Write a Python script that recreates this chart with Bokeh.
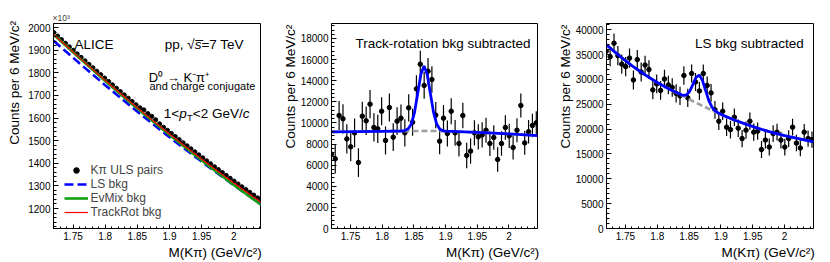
import math
from bokeh.plotting import figure
from bokeh.layouts import row
from bokeh.models import Range1d, FixedTicker, CustomJSTickFormatter, Label, Legend, LegendItem, Title
from bokeh.embed import file_html
from bokeh.resources import INLINE

FONT = "Liberation Sans"
NBSP = "\u00a0"

# ---------------- binning (6 MeV bins) ----------------
N_BINS = 54
BIN_FIRST = 1.7198
BIN_WIDTH = 0.0061
MASS = [round(BIN_FIRST + BIN_WIDTH * i, 5) for i in range(N_BINS)]

# ---------------- panel 1: invariant mass (x10^3 counts) ----------------
ULS_PAIRS = [1978.0, 1962.0, 1946.1, 1930.3, 1914.6, 1898.9, 1883.3, 1867.8, 1852.4, 1837.0,
             1821.7, 1806.5, 1791.4, 1776.3, 1761.3, 1746.4, 1731.5, 1716.8, 1702.0, 1687.4,
             1672.9, 1658.4, 1645.0, 1635.7, 1619.4, 1607.3, 1592.2, 1574.1, 1559.2, 1545.3,
             1531.5, 1517.8, 1504.1, 1490.5, 1477.0, 1463.6, 1450.2, 1436.9, 1423.7, 1410.6,
             1397.5, 1384.5, 1371.6, 1358.8, 1346.0, 1333.3, 1320.7, 1308.2, 1295.7, 1283.3,
             1271.0, 1258.8, 1246.6, 1234.5]
BKG_MASS = [1.7198, 1.76, 1.80, 1.84, 1.88, 1.92, 1.96, 2.00, 2.0431]
LS_BKG = [1941.0, 1841.9, 1745.2, 1651.0, 1559.9, 1471.5, 1386.0, 1303.3, 1217.0]
EVMIX_BKG = [1969.0, 1864.7, 1763.6, 1665.6, 1570.9, 1479.4, 1390.1, 1304.0, 1214.5]
TRACKROT_BKG = [1969.0, 1865.7, 1765.6, 1668.6, 1574.9, 1484.4, 1397.1, 1313.0, 1225.5]

# ---------------- panel 2: track-rotation bkg subtracted ----------------
TR_SUB = [7040, 6600, 10700, 10390, 8490, 7740, 9060, 6250, 10640, 10200,
          11780, 9570, 9440, 11110, 8340, 11460, 8650, 10170, 10450, 9060,
          11430, 10070, 13230, 15570, 13550, 14900, 14110, 10740, 8270, 10450,
          9000, 11110, 9060, 8050, 10700, 6920, 7330, 9060, 8680, 8870,
          9310, 8050, 8620, 6540, 8050, 9570, 8780, 7670, 9310, 11650,
          8110, 9160, 9760, 10010]
TR_ERR = [1400, 1394, 1389, 1383, 1378, 1372, 1367, 1361, 1356, 1350,
          1345, 1339, 1334, 1328, 1323, 1317, 1312, 1306, 1301, 1295,
          1290, 1284, 1279, 1273, 1268, 1262, 1257, 1251, 1246, 1240,
          1235, 1229, 1224, 1218, 1213, 1207, 1202, 1196, 1191, 1185,
          1180, 1174, 1169, 1163, 1158, 1152, 1147, 1141, 1136, 1130,
          1125, 1119, 1114, 1108]
TR_FIT_X = [1.7200, 1.76, 1.80, 1.83, 1.836, 1.841, 1.846, 1.851, 1.856, 1.861, 1.866,
            1.871, 1.876, 1.881, 1.886, 1.891, 1.896, 1.90, 1.95, 2.00, 2.045]
TR_FIT_Y = [9150, 9180, 9210, 9235, 9280, 9440, 9910, 11010, 12780, 14600, 15400,
            14600, 12780, 11000, 9890, 9410, 9260, 9220, 9100, 8960, 8800]
TR_BKG_X = [1.7200, 1.80, 1.866, 1.90, 1.95, 2.00, 2.045]
TR_BKG_Y = [9150, 9210, 9245, 9220, 9100, 8960, 8800]

# ---------------- panel 3: LS bkg subtracted ----------------
LS_SUB = [35700, 34600, 37300, 34800, 33100, 32600, 34300, 29900, 34000, 31500,
          32900, 32000, 27900, 29100, 27800, 30100, 28900, 28400, 27200, 26700,
          30800, 26300, 31200, 29500, 27700, 31200, 28800, 27300, 23900, 21600,
          23600, 20400, 19900, 22400, 20200, 18100, 19800, 21600, 19400, 19600,
          15900, 17800, 16400, 19100, 19400, 17800, 16400, 18100, 20400, 17200,
          16200, 19400, 18100, 17900]
LS_ERR = [1950, 1945, 1940, 1935, 1930, 1925, 1920, 1915, 1910, 1905,
          1900, 1894, 1888, 1882, 1876, 1870, 1864, 1858, 1852, 1846,
          1840, 1834, 1828, 1822, 1816, 1810, 1804, 1798, 1792, 1786,
          1780, 1774, 1768, 1762, 1756, 1750, 1744, 1738, 1732, 1726,
          1720, 1714, 1708, 1702, 1696, 1690, 1684, 1678, 1672, 1666,
          1660, 1655, 1650, 1645]
LS_FIT_X = [1.7202, 1.74, 1.76, 1.78, 1.80, 1.82, 1.836, 1.841, 1.846, 1.851, 1.856, 1.861,
            1.866, 1.871, 1.876, 1.881, 1.886, 1.891, 1.896, 1.90, 1.92, 1.94, 1.96, 1.98,
            2.00, 2.02, 2.0455]
LS_FIT_Y = [37000, 34800, 32800, 31000, 29400, 28000, 27040, 26780, 26910, 27630, 29010, 30440,
            30890, 29820, 27760, 25760, 24420, 23670, 23240, 22980, 21900, 20950, 20100, 19350,
            18700, 18150, 17450]
LS_BKG_X = [1.7202, 1.74, 1.76, 1.78, 1.80, 1.82, 1.84, 1.86, 1.88, 1.90, 1.92, 1.94, 1.96,
            1.98, 2.00, 2.02, 2.0455]
LS_BKG_Y = [37000, 34800, 32800, 31000, 29400, 28000, 26700, 25370, 24150, 22980, 21900,
            20950, 20100, 19350, 18700, 18150, 17450]

# ---------------- ticks ----------------
X_MAJOR = [1.75, 1.8, 1.85, 1.9, 1.95, 2.0]
X_MINOR = [round(1.72 + 0.01 * k, 2) for k in range(33)]
Y1_MAJOR = list(range(1200, 2001, 100))
Y1_MINOR = list(range(1120, 2001, 20))
Y2_MAJOR = list(range(0, 18001, 2000))
Y2_MINOR = list(range(0, 19201, 400))
Y3_MAJOR = list(range(0, 40001, 5000))
Y3_MINOR = list(range(0, 41001, 1000))

H = 262
TOP = 23
FRAME_H = 205
FB = TOP + FRAME_H  # frame bottom on the canvas

X_TITLE = "M(K\u03c0) (GeV/c\u00b2)"
Y_TITLE = "Counts per 6 MeV/c\u00b2"


def make_fig(width, left, right, xr, yr, ymaj, ymin, y_pad, y_standoff):
    p = figure(width=width, height=H, x_range=Range1d(*xr), y_range=Range1d(*yr),
               output_backend="svg", toolbar_location=None, title=None,
               min_border_left=left, min_border_right=right,
               min_border_top=TOP, min_border_bottom=H - TOP - FRAME_H)
    p.xgrid.visible = False
    p.ygrid.visible = False
    p.outline_line_color = "black"
    p.outline_line_alpha = 1.0
    p.outline_line_width = 1
    p.background_fill_color = "white"
    p.border_fill_color = "white"
    for ax in (p.xaxis[0], p.yaxis[0]):
        ax.axis_line_color = "black"
        ax.major_tick_line_color = "black"
        ax.minor_tick_line_color = "black"
        ax.major_tick_out = 0
        ax.minor_tick_out = 0
        ax.major_label_text_font = FONT
        ax.major_label_text_font_size = "10px"
        ax.major_label_text_color = "black"
        ax.major_label_standoff = 3
        ax.axis_label_text_font = FONT
        ax.axis_label_text_font_size = "13.5px"
        ax.axis_label_text_font_style = "normal"
        ax.axis_label_text_color = "black"
    p.xaxis.major_tick_in = 4
    p.xaxis.minor_tick_in = 2
    p.yaxis.major_tick_in = 5
    p.yaxis.minor_tick_in = 3
    p.xaxis.ticker = FixedTicker(ticks=X_MAJOR, minor_ticks=X_MINOR)
    p.xaxis.formatter = CustomJSTickFormatter(code="return String(Math.round(tick*100)/100);")
    p.yaxis.ticker = FixedTicker(ticks=ymaj, minor_ticks=ymin)
    # axis titles (ROOT style: aligned to the end of the axis)
    p.xaxis.axis_label = NBSP * 31 + X_TITLE
    p.xaxis.axis_label_standoff = 2
    p.yaxis.axis_label = NBSP * y_pad + Y_TITLE
    p.yaxis.axis_label_standoff = y_standoff
    return p


def put(p, fl, text, ax, ay, size, italic=False, align="left", baseline="alphabetic"):
    p.add_layout(Label(x=ax - fl, y=FB - ay, x_units="screen", y_units="screen", text=text,
                       text_font=FONT, text_font_size=f"{size}px",
                       text_font_style="italic" if italic else "normal",
                       text_align=align, text_baseline=baseline, text_color="black"))


def err_bars(p, vals, errs):
    lo = [v - e for v, e in zip(vals, errs)]
    hi = [v + e for v, e in zip(vals, errs)]
    p.segment(x0=MASS, y0=lo, x1=MASS, y1=hi, line_color="black", line_width=1.2)
    p.scatter(MASS, vals, size=4.5, color="black")


# ---------------- panel 1 ----------------
FL1 = 53
p1 = make_fig(270, 53, 10, (1.7196, 2.0415), (1111.6, 2017.7), Y1_MAJOR, Y1_MINOR, 23, 3)
r_uls = p1.scatter(MASS, ULS_PAIRS, size=4.2, color="black")
r_ls = p1.line(BKG_MASS, LS_BKG, line_color="#0000ff", line_width=2.6, line_dash="9 4")
r_ev = p1.line(BKG_MASS, EVMIX_BKG, line_color="#11a011", line_width=2.6)
r_tr = p1.line(BKG_MASS, TRACKROT_BKG, line_color="#ff0000", line_width=1.2)
legend = Legend(items=[LegendItem(label="K\u03c0 ULS pairs", renderers=[r_uls]),
                       LegendItem(label="LS bkg", renderers=[r_ls]),
                       LegendItem(label="EvMix bkg", renderers=[r_ev]),
                       LegendItem(label="TrackRot bkg", renderers=[r_tr])],
                location=(10.6, 9.3), orientation="vertical",
                background_fill_alpha=0.0, border_line_alpha=0.0,
                padding=0, margin=0, spacing=0, label_height=14, glyph_height=14,
                glyph_width=24, label_standoff=3, label_text_font=FONT,
                label_text_font_size="12px", label_text_baseline="middle")
p1.add_layout(legend)
p1.add_layout(Title(text="\u00d710\u00b3", align="left", text_font=FONT, text_font_size="8.5px",
                    text_font_style="normal", standoff=2, offset=-1), "above")
put(p1, FL1, "ALICE", 74, 44, 13.5)
put(p1, FL1, "pp, ", 164.3, 43.5, 13.5)
put(p1, FL1, "\u221a", 186.8, 43.5, 13.5)
put(p1, FL1, "s\u0305", 194.2, 43.5, 13.5, italic=True)
put(p1, FL1, "=7 TeV", 200.95, 43.5, 13.5)
put(p1, FL1, "D\u2070 \u2192 K\u207b\u03c0\u207a", 148.3, 76.7, 13.0)
put(p1, FL1, "and charge conjugate", 149, 85.5, 11.0)
put(p1, FL1, "1<", 163.3, 112.5, 13.5)
put(p1, FL1, "p", 178.7, 112.5, 13.5, italic=True)
put(p1, FL1, "T", 186.5, 117, 9.5)
put(p1, FL1, "<2 GeV/", 192.3, 112.5, 13.5)
put(p1, FL1, "c", 242.2, 112.5, 13.5, italic=True)

# ---------------- panel 2 ----------------
FL2 = 331
p2 = make_fig(280, 61, 13, (1.7200, 2.0450), (0, 19420), Y2_MAJOR, Y2_MINOR, 21, 0)
err_bars(p2, TR_SUB, TR_ERR)
p2.line(TR_BKG_X, TR_BKG_Y, line_color="#a0a0a0", line_width=2.6, line_dash="6 3")
p2.line(TR_FIT_X, TR_FIT_Y, line_color="#0000ff", line_width=2.8)
put(p2, FL2, "Track-rotation bkg subtracted", 530, 43, 13.5, align="right")

# ---------------- panel 3 ----------------
FL3 = 606
p3 = make_fig(280, 56, 17, (1.7202, 2.0455), (0, 41270), Y3_MAJOR, Y3_MINOR, 21, 0)
err_bars(p3, LS_SUB, LS_ERR)
p3.line(LS_BKG_X, LS_BKG_Y, line_color="#a0a0a0", line_width=2.6, line_dash="6 3")
p3.line(LS_FIT_X, LS_FIT_Y, line_color="#0000ff", line_width=2.8)
put(p3, FL3, "LS bkg subtracted", 803.3, 43, 13.5, align="right")

layout = row(p1, p2, p3)
open("out.html", "w").write(file_html(layout, INLINE, title="D0 invariant mass"))
